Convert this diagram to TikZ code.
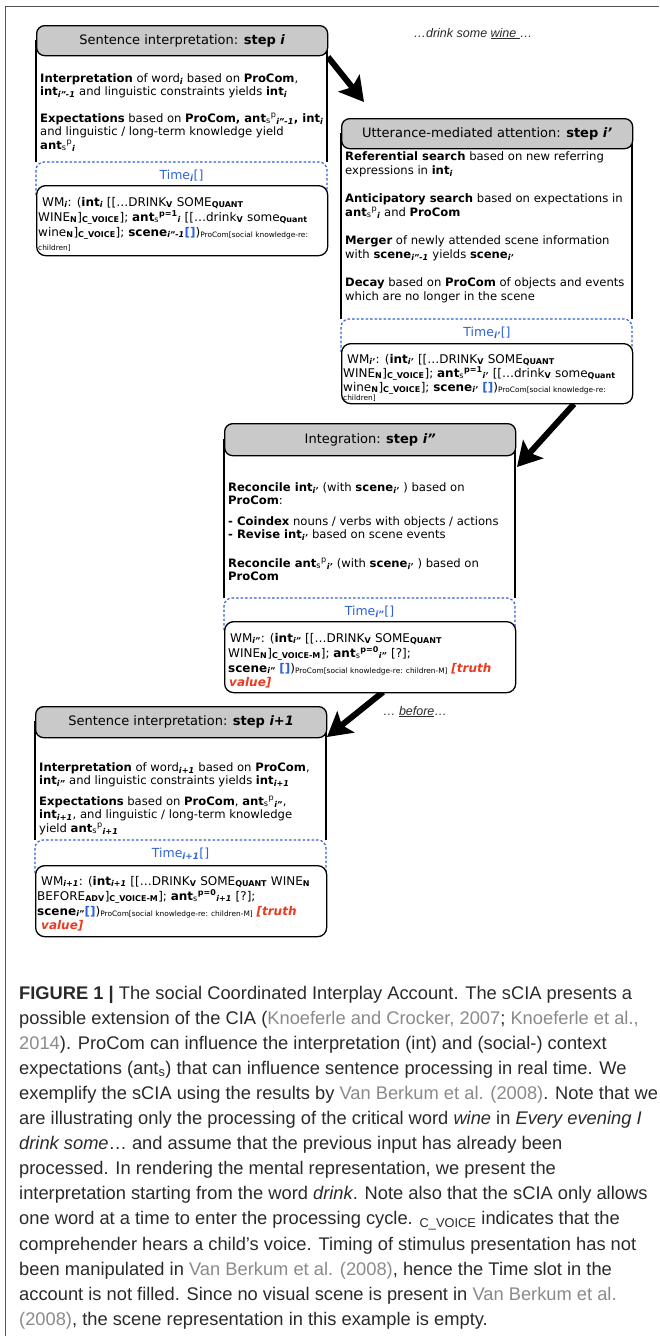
\documentclass[tikz,border=0pt]{standalone}
\usepackage{fontspec}
\setmainfont{DejaVu Sans}
\newfontfamily\capfont{Liberation Sans}
\usetikzlibrary{arrows.meta}
\definecolor{hdrgray}{HTML}{C9C9C9}
\definecolor{tblue}{HTML}{2F62D8}
\definecolor{tred}{HTML}{EA3A1F}
\definecolor{capgray}{HTML}{8A8A8A}
\definecolor{captext}{HTML}{2A2A2A}
\definecolor{framegray}{HTML}{555555}
\newcommand{\ix}[1]{\textsubscript{\bfseries\itshape #1}}
\newcommand{\lo}[1]{\textsubscript{\bfseries #1}}
\newcommand{\pc}[1]{\raisebox{-1.6pt}{\fontsize{7.4}{8}\selectfont #1}}
\newcommand{\antsp}[1]{\textbf{ant}\textsubscript{s}\textsuperscript{p}\ix{#1}}
\newcommand{\antpp}[2]{\textbf{ant}\textsubscript{s}\textsuperscript{\bfseries p=#1}\ix{#2}}
\newcommand{\bl}{\textcolor{tblue}{\textbf{[]}}}
\newcommand{\tv}[1]{\textcolor{tred}{\bfseries\itshape #1}}
\newcommand{\hfnt}{\fontsize{13}{15}\selectfont}
\newcommand{\bfnt}{\fontsize{11.6}{13.5}\selectfont}
\newcommand{\wfnt}{\fontsize{12}{14}\selectfont}
\newcommand{\tfnt}{\fontsize{12.5}{14}\selectfont}
\newcommand{\capfnt}{\capfont\fontsize{18.3}{22}\selectfont}
\newcommand{\smf}{\fontsize{7.4}{8}\selectfont}
\tikzset{
 boxline/.style={line width=1.3pt, draw=black},
 hdr/.style={draw=black, line width=1.3pt, fill=hdrgray, rounded corners=8pt, inner sep=0pt, font=\hfnt, minimum width=291pt},
 wmbox/.style={draw=black, line width=1.3pt, fill=white, rounded corners=9pt, inner sep=0pt, minimum width=291pt, anchor=north west},
 tdash/.style={draw=tblue, line width=1.2pt, dash pattern=on 2.5pt off 2pt, rounded corners=8pt},
 bigarrow/.style={line width=6pt, -{Stealth[length=24pt,width=27pt,inset=5pt]}},
 txt/.style={anchor=base west, inner sep=0pt, font=\bfnt},
 wmt/.style={anchor=base west, inner sep=0pt, font=\wfnt},
 tlab/.style={anchor=base, inner sep=0pt, font=\tfnt, text=tblue},
 captxt/.style={anchor=base west, inner sep=0pt, font=\capfnt, text=captext},
 ann/.style={anchor=base, inner sep=0pt, font=\capfont\fontsize{12.5}{14}\selectfont\itshape, text=captext},
}
\begin{document}
\begin{tikzpicture}[x=1pt,y=-1pt]
\useasboundingbox (0,0) rectangle (659,1336);
\fill[white] (0,0) rectangle (659,1336);
\draw[framegray, line width=1pt] (5,1336) -- (5,6) -- (659,6);

% arrows (drawn first)
\coordinate (a1s) at (328,57); \coordinate (a1e) at (364,102);
\coordinate (a2s) at (574,404); \coordinate (a2e) at (517,467);
\coordinate (a3s) at (383,692); \coordinate (a3e) at (327,737);
\draw[bigarrow] (a1s) -- (a1e);
\draw[bigarrow] (a2s) -- (a2e);
\draw[bigarrow] (a3s) -- (a3e);

\node[ann] (ann1) at (473,37) {…drink some \underline{wine\ }…};
\node[ann] (ann2) at (415,715) {… \underline{before}…};

% ---------------- Box 1 ----------------
\draw[boxline] (36,40) -- (36,162) (327,40) -- (327,162);
\draw[tdash] (36,195) -- (36,162) -- (327,162) -- (327,195);
\node[hdr, minimum height=30pt, anchor=north west] (h1) at (36,25) {Sentence interpretation: \textbf{step \textit{i}}};
\node[txt] (b1a) at (40,82) {\textbf{Interpretation} of word\ix{i} based on \textbf{ProCom},};
\node[txt] (b1b) at (40,95.5) {\textbf{int}\ix{i”-1} and linguistic constraints yields \textbf{int}\ix{i}};
\node[txt] (b1c) at (40,122) {\textbf{Expectations} based on \textbf{ProCom, }\antsp{i”-1}\textbf{, int}\ix{i}};
\node[txt] (b1d) at (40,135.5) {and linguistic / long-term knowledge yield};
\node[txt] (b1e) at (40,149) {\antsp{i}};
\node[tlab] (t1) at (181.5,179) {Time\ix{i}[]};
\node[wmbox, minimum height=70pt] (w1) at (36,185) {};
\node[wmt] (w1a) at (42,206) {WM\ix{i}: (\textbf{int}\ix{i} [[…DRINK\lo{V} SOME\lo{QUANT}};
\node[wmt] (w1b) at (38,221) {WINE\lo{N}]\lo{C\_VOICE}]; \antpp{1}{i} [[…drink\lo{V} some\lo{Quant}};
\node[wmt] (w1c) at (38,236) {wine\lo{N}]\lo{C\_VOICE}]; \textbf{scene}\ix{i”-1}\bl)\pc{ProCom[social knowledge-re:}};
\node[wmt, font=\smf] (w1d) at (38,250) {children]};

% ---------------- Box 2 ----------------
\draw[boxline] (341,133) -- (341,319) (632,133) -- (632,319);
\draw[tdash] (341,352) -- (341,319) -- (632,319) -- (632,352);
\node[hdr, minimum height=30pt, anchor=north west] (h2) at (341,118) {Utterance-mediated attention: \textbf{step \textit{i’}}};
\node[txt] (b2a) at (345,160) {\textbf{Referential search} based on new referring};
\node[txt] (b2b) at (345,174) {expressions in \textbf{int}\ix{i}};
\node[txt] (b2c) at (345,202) {\textbf{Anticipatory search} based on expectations in};
\node[txt] (b2d) at (345,216) {\antsp{i} and \textbf{ProCom}};
\node[txt] (b2e) at (345,244) {\textbf{Merger} of newly attended scene information};
\node[txt] (b2f) at (345,258) {with \textbf{scene}\ix{i”-1} yields \textbf{scene}\ix{i’}};
\node[txt] (b2g) at (345,286) {\textbf{Decay} based on \textbf{ProCom} of objects and events};
\node[txt] (b2h) at (345,300) {which are no longer in the scene};
\node[tlab] (t2) at (487,336) {Time\ix{i’}[]};
\node[wmbox, minimum height=60pt] (w2) at (341,343) {};
\node[wmt] (w2a) at (347,363) {WM\ix{i’}: (\textbf{int}\ix{i’} [[…DRINK\lo{V} SOME\lo{QUANT}};
\node[wmt] (w2b) at (343,377) {WINE\lo{N}]\lo{C\_VOICE}]; \antpp{1}{i’} [[…drink\lo{V} some\lo{Quant}};
\node[wmt] (w2c) at (343,391) {wine\lo{N}]\lo{C\_VOICE}]; \textbf{scene}\ix{i’} \bl)\pc{ProCom[social knowledge-re:}};
\node[wmt, font=\smf] (w2d) at (343,400) {children]};

% ---------------- Box 3 ----------------
\draw[boxline] (224,439) -- (224,598) (515,439) -- (515,598);
\draw[tdash] (224,630) -- (224,598) -- (515,598) -- (515,630);
\node[hdr, minimum height=32pt, anchor=north west] (h3) at (224,423) {Integration: \textbf{step \textit{i”}}};
\node[txt] (b3a) at (228,491) {\textbf{Reconcile int}\ix{i’} (with \textbf{scene}\ix{i’} ) based on};
\node[txt] (b3b) at (228,504.5) {\textbf{ProCom}:};
\node[txt] (b3c) at (228,525) {\textbf{- Coindex} nouns / verbs with objects / actions};
\node[txt] (b3d) at (228,538.5) {\textbf{- Revise int}\ix{i’} based on scene events};
\node[txt] (b3e) at (228,567) {\textbf{Reconcile }\antsp{i’} (with \textbf{scene}\ix{i’} ) based on};
\node[txt] (b3f) at (228,580.5) {\textbf{ProCom}};
\node[tlab] (t3) at (369.5,615) {Time\ix{i”}[]};
\node[wmbox, minimum height=71pt] (w3) at (224,621) {};
\node[wmt] (w3a) at (230,642) {WM\ix{i”}: (\textbf{int}\ix{i”} [[…DRINK\lo{V} SOME\lo{QUANT}};
\node[wmt] (w3b) at (228,657) {WINE\lo{N}]\lo{C\_VOICE-M}]; \antpp{0}{i”} [?];};
\node[wmt] (w3c) at (228,672) {\textbf{scene}\ix{i”} \bl)\pc{ProCom[social knowledge-re: children-M]} \tv{[truth}};
\node[wmt] (w3d) at (229,686) {\tv{value]}};

% ---------------- Box 4 ----------------
\draw[boxline] (35,721) -- (35,840) (326,721) -- (326,840);
\draw[tdash] (35,873) -- (35,840) -- (326,840) -- (326,873);
\node[hdr, minimum height=31pt, anchor=north west] (h4) at (35,706) {Sentence interpretation: \textbf{step \textit{i+1}}};
\node[txt] (b4a) at (39,771) {\textbf{Interpretation} of word\ix{i+1} based on \textbf{ProCom},};
\node[txt] (b4b) at (39,784.5) {\textbf{int}\ix{i”} and linguistic constraints yields \textbf{int}\ix{i+1}};
\node[txt] (b4c) at (39,805) {\textbf{Expectations} based on \textbf{ProCom}, \antsp{i”},};
\node[txt] (b4d) at (39,818.5) {\textbf{int}\ix{i+1}, and linguistic / long-term knowledge};
\node[txt] (b4e) at (39,832) {yield \antsp{i+1}};
\node[tlab] (t4) at (180.5,857) {Time\ix{i+1}[]};
\node[wmbox, minimum height=71pt] (w4) at (35,865) {};
\node[wmt] (w4a) at (41,885) {WM\ix{i+1}: (\textbf{int}\ix{i+1} [[…DRINK\lo{V} SOME\lo{QUANT} WINE\lo{N}};
\node[wmt] (w4b) at (37,900) {BEFORE\lo{ADV}]\lo{C\_VOICE-M}]; \antpp{0}{i+1} [?];};
\node[wmt] (w4c) at (37,915) {\textbf{scene}\ix{i”}\bl)\pc{ProCom[social knowledge-re: children-M]} \tv{[truth}};
\node[wmt] (w4d) at (41,929) {\tv{value]}};

% ---------------- Caption ----------------
\node[captxt] (c1) at (19,999) {\textbf{FIGURE 1 |} The social Coordinated Interplay Account. The sCIA presents a};
\node[captxt] (c2) at (19,1024.1) {possible extension of the CIA ({\color{capgray}Knoeferle and Crocker, 2007}; {\color{capgray}Knoeferle et al.,}};
\node[captxt] (c3) at (19,1049.2) {{\color{capgray}2014}). ProCom can influence the interpretation (int) and (social-) context};
\node[captxt] (c4) at (19,1074.3) {expectations (ant\textsubscript{s}) that can influence sentence processing in real time. We};
\node[captxt] (c5) at (19,1099.4) {exemplify the sCIA using the results by {\color{capgray}Van Berkum et al. (2008)}. Note that we};
\node[captxt] (c6) at (19,1124.5) {are illustrating only the processing of the critical word \textit{wine} in \textit{Every evening I}};
\node[captxt] (c7) at (19,1149.6) {\textit{drink some}… and assume that the previous input has already been};
\node[captxt] (c8) at (19,1174.7) {processed. In rendering the mental representation, we present the};
\node[captxt] (c9) at (19,1199.8) {interpretation starting from the word \textit{drink}. Note also that the sCIA only allows};
\node[captxt] (c10) at (19,1224.9) {one word at a time to enter the processing cycle. \textsubscript{C\_VOICE} indicates that the};
\node[captxt] (c11) at (19,1250) {comprehender hears a child’s voice. Timing of stimulus presentation has not};
\node[captxt] (c12) at (19,1275.1) {been manipulated in {\color{capgray}Van Berkum et al. (2008)}, hence the Time slot in the};
\node[captxt] (c13) at (19,1300.2) {account is not filled. Since no visual scene is present in {\color{capgray}Van Berkum et al.}};
\node[captxt] (c14) at (19,1325.3) {{\color{capgray}(2008)}, the scene representation in this example is empty.};
\end{tikzpicture}
\end{document}
